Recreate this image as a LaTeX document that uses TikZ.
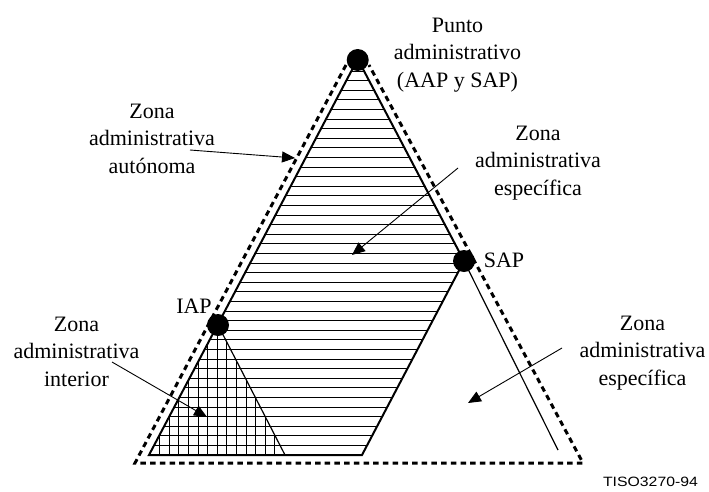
\documentclass[tikz,border=0pt]{standalone}
\usepackage{fontspec}
\setmainfont{Liberation Serif}
\newfontfamily\refsans{Liberation Sans}
\usetikzlibrary{arrows.meta}
\begin{document}
\begin{tikzpicture}[x=1pt,y=-1pt,
  lbl/.style={align=center, anchor=base, inner sep=0pt, font=\fontsize{22}{27.5}\selectfont},
  zoneedge/.style={line width=2pt, line join=miter},
  thinedge/.style={line width=1.2pt},
  hatch/.style={line width=0.9pt},
  outline/.style={line width=3pt, dash pattern=on 5.5pt off 4.2pt},
  pointer/.style={line width=0.9pt, -{Triangle[length=13pt,width=11pt]}},
  apdot/.style={circle, fill=black, inner sep=0pt, minimum size=22pt},
]
\useasboundingbox (0,0) rectangle (709,491);

% corners of the zones
\coordinate (A) at (357.7,59);   % administrative point
\coordinate (S) at (464,261);    % SAP
\coordinate (B) at (362,455);
\coordinate (L) at (149,455);
\coordinate (I) at (218,325);    % IAP
\coordinate (M) at (285,455);
\coordinate (E) at (558,450);

% horizontal hatching of the specific zone
\begin{scope}
  \clip (A) -- (S) -- (B) -- (L) -- cycle;
  \foreach \k in {1,...,41}
    \draw[hatch] (140,455-9.6*\k) -- (470,455-9.6*\k);
\end{scope}

% vertical hatching of the interior zone
\begin{scope}
  \clip (I) -- (L) -- (M) -- cycle;
  \foreach \k in {-7,...,6}
    \draw[hatch] (217.3+9.6*\k,320) -- (217.3+9.6*\k,460);
\end{scope}

% zone borders
\draw[zoneedge] (A) -- (S) -- (B) -- (L) -- cycle;
\draw[thinedge] (I) -- (M);
\draw[thinedge] (S) -- (E);

% autonomous zone outline
\coordinate (OL) at (346,65);
\coordinate (OBL) at (135,463);
\coordinate (OBR) at (583,463);
\coordinate (OR) at (369,65);
\draw[outline] (OL) -- (OBL) -- (OBR) -- (OR);

% points
\node[apdot] (pa) at (357.7,60) {};
\node[apdot] (sap) at (S) {};
\node[apdot] (iap) at (I) {};

% labels (base = baseline of the last line)
\node[lbl] (tpunto) at (457.5,87) {Punto\\administrativo\\(AAP y SAP)};
\node[lbl] (taut) at (152,173) {Zona\\administrativa\\autónoma};
\node[lbl] (tesp1) at (538,195) {Zona\\administrativa\\específica};
\node[lbl] (tint) at (76.5,386) {Zona\\administrativa\\interior};
\node[lbl] (tesp2) at (642.5,385) {Zona\\administrativa\\específica};
\node[lbl] (tiap) at (194,313) {IAP};
\node[lbl] (tsap) at (504,267) {SAP};
\node[anchor=base, inner sep=0pt] (tref) at (650.5,486)
  {\scalebox{1.17}[1]{\refsans\fontsize{13.5}{16}\selectfont TISO3270-94}};

% pointers
\coordinate (p1s) at (190,150); \coordinate (p1e) at (295,158);
\coordinate (p2s) at (458,168); \coordinate (p2e) at (352,255);
\coordinate (p3s) at (112,362); \coordinate (p3e) at (207,417);
\coordinate (p4s) at (562,348); \coordinate (p4e) at (468,403);
\draw[pointer] (p1s) -- (p1e);
\draw[pointer] (p2s) -- (p2e);
\draw[pointer] (p3s) -- (p3e);
\draw[pointer] (p4s) -- (p4e);
\end{tikzpicture}
\end{document}
